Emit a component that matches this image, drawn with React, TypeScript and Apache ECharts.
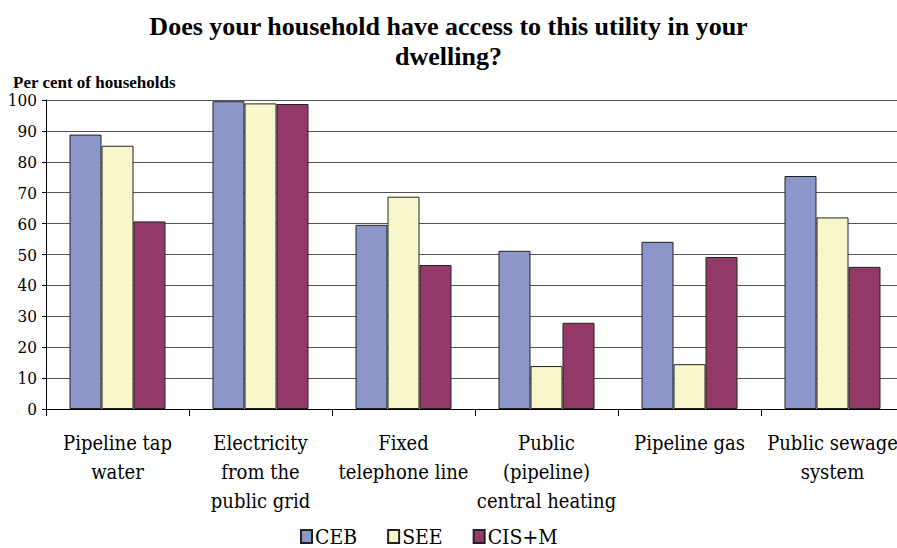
import React, { useEffect, useRef } from "react";
import * as echarts from "echarts";

const categories = [
  "Pipeline tap\nwater",
  "Electricity\nfrom the\npublic grid",
  "Fixed\ntelephone line",
  "Public\n(pipeline)\ncentral heating",
  "Pipeline gas",
  "Public sewage\nsystem",
];
const ceb = [88.8, 99.6, 59.6, 51.2, 54.1, 75.4];
const see = [85.2, 98.9, 68.7, 13.9, 14.5, 62.0];
const cism = [60.7, 98.7, 46.6, 27.9, 49.2, 46.0];
const seriesNames = ["CEB", "SEE", "CIS+M"];
const colors = ["#8C96C8", "#F8F7CB", "#933A68"];

const BOLD_FONT = "Liberation Serif";
const FONT = "DejaVu Serif Condensed";

let fontsPromise: Promise<unknown> = Promise.resolve();
try {
  fontsPromise = Promise.all([
    document.fonts.load("20px 'DejaVu Serif Condensed'"),
    document.fonts.load("bold 22px 'Liberation Serif'"),
  ]);
} catch (e) {
  fontsPromise = Promise.resolve();
}

function buildOption() {
  const data = [ceb, see, cism];
  return {
    animation: false,
    backgroundColor: "#ffffff",
    textStyle: { fontFamily: FONT, color: "#000" },
    title: [
      {
        text: "Does your household have access to this utility in your\ndwelling?",
        left: "center",
        top: 6,
        textStyle: {
          fontFamily: BOLD_FONT,
          fontWeight: "bold",
          fontSize: 26,
          lineHeight: 30,
          color: "#000",
        },
      },
      {
        text: "Per cent of households",
        left: 8,
        top: 69,
        textStyle: {
          fontFamily: BOLD_FONT,
          fontWeight: "bold",
          fontSize: 17,
          color: "#000",
        },
      },
    ],
    legend: {
      left: 295,
      top: 521,
      itemGap: 30,
      itemWidth: 11,
      itemHeight: 13,
      icon: "rect",
      textStyle: { fontFamily: FONT, fontSize: 21, color: "#000", padding: [0, 0, 0, -2] },
      data: seriesNames,
    },
    grid: { left: 46, top: 100, width: 858, height: 309, outerBoundsMode: "none", containLabel: false },
    xAxis: {
      type: "category",
      data: categories,
      boundaryGap: true,
      axisLine: { show: true, lineStyle: { color: "#000", width: 1 } },
      axisTick: { show: true, length: 7, lineStyle: { color: "#000" } },
      axisLabel: {
        interval: 0,
        margin: 19,
        fontFamily: FONT,
        fontSize: 20,
        lineHeight: 29,
        color: "#000",
      },
    },
    yAxis: {
      type: "value",
      min: 0,
      max: 100,
      interval: 10,
      axisLine: { show: true, lineStyle: { color: "#000", width: 1 } },
      axisTick: { show: true, length: 4, lineStyle: { color: "#000" } },
      axisLabel: { margin: 9, fontFamily: FONT, fontSize: 17, color: "#000" },
      splitLine: { show: true, lineStyle: { color: "#555", width: 1 } },
    },
    series: seriesNames.map((name, i) => ({
      name,
      type: "bar",
      data: data[i],
      barWidth: 32,
      barGap: "0%",
      itemStyle: {
        color: colors[i],
        borderColor: "#222",
        borderWidth: 1,
      },
    })),
  };
}

export default function App() {
  const ref = useRef<HTMLDivElement>(null);
  useEffect(() => {
    if (!ref.current) return;
    const chart = echarts.init(ref.current, null, { renderer: "svg" });
    chart.setOption(buildOption());
    let alive = true;
    fontsPromise.then(() => {
      if (!alive) return;
      chart.setOption(buildOption(), true);
    });
    return () => {
      alive = false;
      chart.dispose();
    };
  }, []);
  return (
    <div
      ref={ref}
      style={{ position: "fixed", left: 0, top: 0, width: 897, height: 548 }}
    />
  );
}
